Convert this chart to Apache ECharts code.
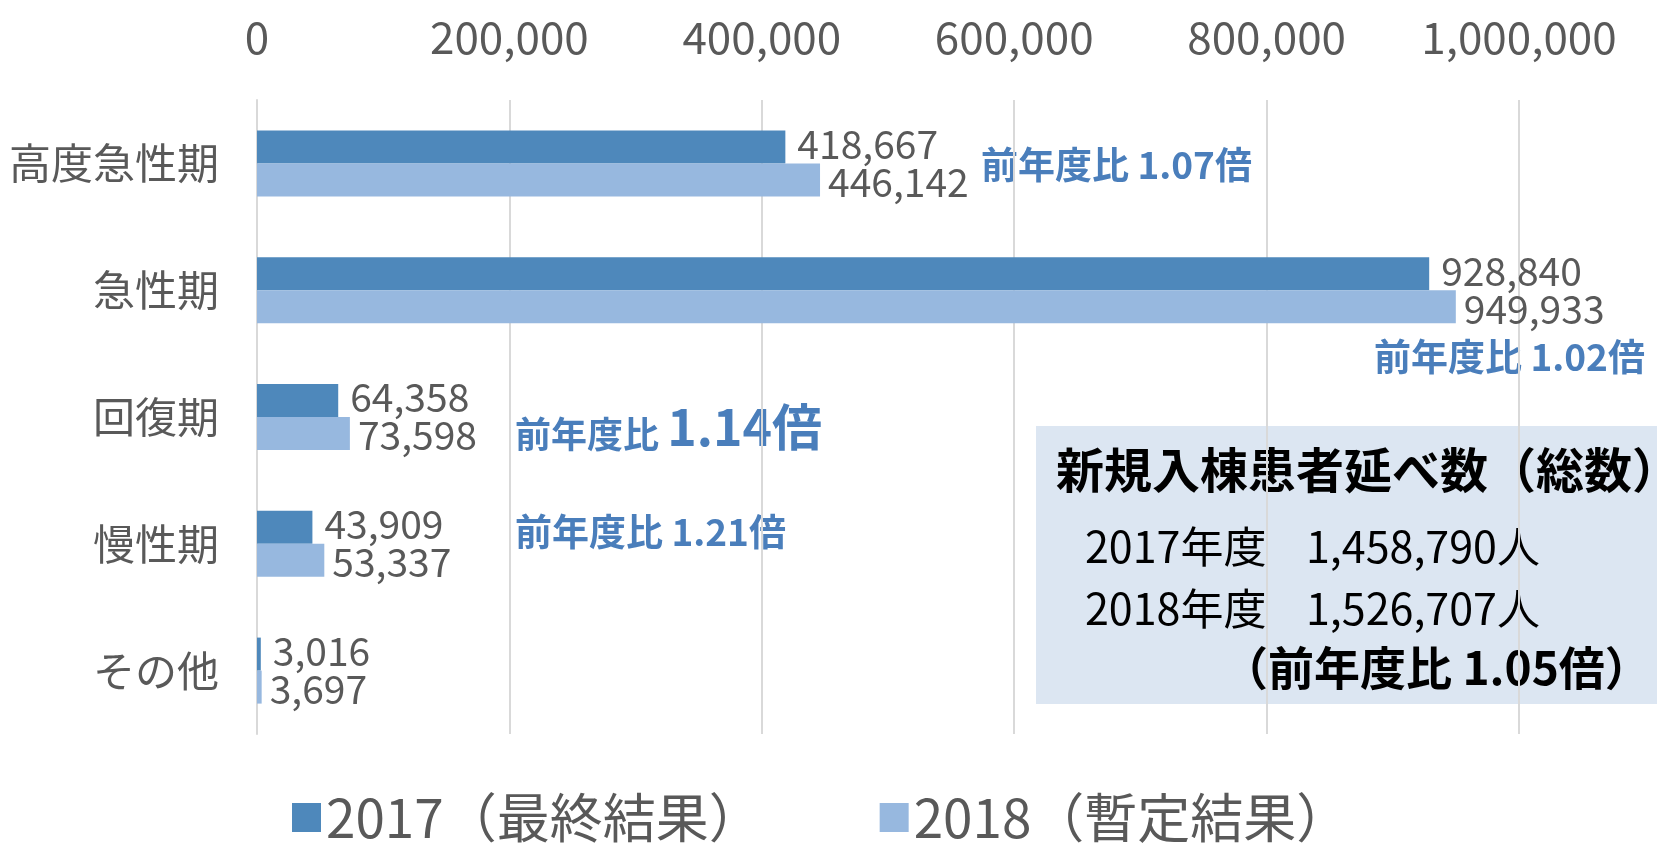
<!DOCTYPE html>
<html><head><meta charset="utf-8">
<script src="https://cdn.jsdelivr.net/npm/echarts@6/dist/echarts.min.js"></script>
<style>html,body{margin:0;padding:0;background:#fff}#c{width:1657px;height:853px}</style>
</head><body><div id="c"></div>
<script>
const categories = ['高度急性期', '急性期', '回復期', '慢性期', 'その他'];
const series2017 = [418667, 928840, 64358, 43909, 3016];
const series2018 = [446142, 949933, 73598, 53337, 3697];
const seriesNames = ['2017（最終結果）', '2018（暫定結果）'];
const xTicks = [0, 200000, 400000, 600000, 800000, 1000000];
const ratioTexts = ['前年度比 1.07倍', '前年度比 1.02倍', '前年度比 1.14倍', '前年度比 1.21倍'];
const boxTitle = '新規入棟患者延べ数（総数）';
const boxYears = ['2017年度', '2018年度'];
const boxTotals = ['1,458,790人', '1,526,707人'];
const boxRatio = '（前年度比 1.05倍）';

const FONT = '"Noto Sans CJK JP", "Noto Sans", sans-serif';
const GRAY = '#595959';
const BLUE = '#4A7EBB';
const fmt = v => v.toLocaleString('en-US');

const chart = echarts.init(document.getElementById('c'));
chart.setOption({
  animation: false,
  textStyle: { fontFamily: FONT },
  grid: { left: 257, right: 138, top: 100, bottom: 119 },
  xAxis: {
    type: 'value', position: 'top', min: xTicks[0], max: xTicks[xTicks.length - 1], interval: 200000,
    axisLine: { show: false }, axisTick: { show: false },
    splitLine: { lineStyle: { color: '#d9d9d9', width: 2 } },
    axisLabel: { fontSize: 44, color: GRAY, fontFamily: FONT, margin: 63, verticalAlign: 'middle', formatter: v => fmt(v) }
  },
  yAxis: {
    type: 'category', data: categories, inverse: true,
    axisLine: { show: true, lineStyle: { color: '#d9d9d9', width: 2 } },
    axisTick: { show: false },
    axisLabel: { fontSize: 42, color: GRAY, fontFamily: FONT, margin: 38 }
  },
  legend: {
    bottom: 4, left: 287, itemWidth: 29, itemHeight: 29, itemGap: 118, icon: 'rect',
    textStyle: { fontSize: 53, color: GRAY, fontFamily: FONT },
    data: seriesNames
  },
  series: [
    { name: seriesNames[0], type: 'bar', data: series2017, barWidth: 33, barGap: '0%',
      itemStyle: { color: '#4E88BB' },
      label: { show: true, position: 'right', distance: 12, offset: [0, -3], fontSize: 39, color: GRAY, fontFamily: FONT, formatter: p => fmt(p.value) } },
    { name: seriesNames[1], type: 'bar', data: series2018, barWidth: 33, barGap: '0%',
      itemStyle: { color: '#97B8DF' },
      label: { show: true, position: 'right', distance: 8, offset: [0, 2], fontSize: 39, color: GRAY, fontFamily: FONT, formatter: p => fmt(p.value) } }
  ],
  graphic: [
    { type: 'text', left: 981, top: 146, style: { text: ratioTexts[0], font: 'bold 37px ' + FONT, fill: BLUE } },
    { type: 'text', left: 1374, top: 338, style: { text: ratioTexts[1], font: 'bold 37px ' + FONT, fill: BLUE } },
    { type: 'text', left: 515, top: 402, style: {
        text: '{a|' + ratioTexts[2].split(' ')[0] + ' }{b|' + ratioTexts[2].split(' ')[1] + '}',
        rich: { a: { font: 'bold 36px ' + FONT, fill: BLUE, color: BLUE, verticalAlign: 'bottom' }, b: { font: 'bold 50px ' + FONT, fill: BLUE, color: BLUE, verticalAlign: 'bottom' } } } },
    { type: 'text', left: 515, top: 513, style: { text: ratioTexts[3], font: 'bold 37px ' + FONT, fill: BLUE } },
    { type: 'rect', shape: { x: 1036, y: 426, width: 640, height: 278 }, style: { fill: '#DCE6F2' } },
    { type: 'text', left: 1056, top: 446, style: { text: boxTitle, font: 'bold 48px ' + FONT, fill: '#000' } },
    { type: 'text', left: 1085, top: 525, style: { text: boxYears[0], font: '43px ' + FONT, fill: '#000' } },
    { type: 'text', left: 1306, top: 525, style: { text: boxTotals[0], font: '43px ' + FONT, fill: '#000' } },
    { type: 'text', left: 1085, top: 587, style: { text: boxYears[1], font: '43px ' + FONT, fill: '#000' } },
    { type: 'text', left: 1306, top: 587, style: { text: boxTotals[1], font: '43px ' + FONT, fill: '#000' } },
    { type: 'text', left: 1222, top: 645, style: { text: boxRatio, font: 'bold 46px ' + FONT, fill: '#000' } }
  ]
});
</script></body></html>
